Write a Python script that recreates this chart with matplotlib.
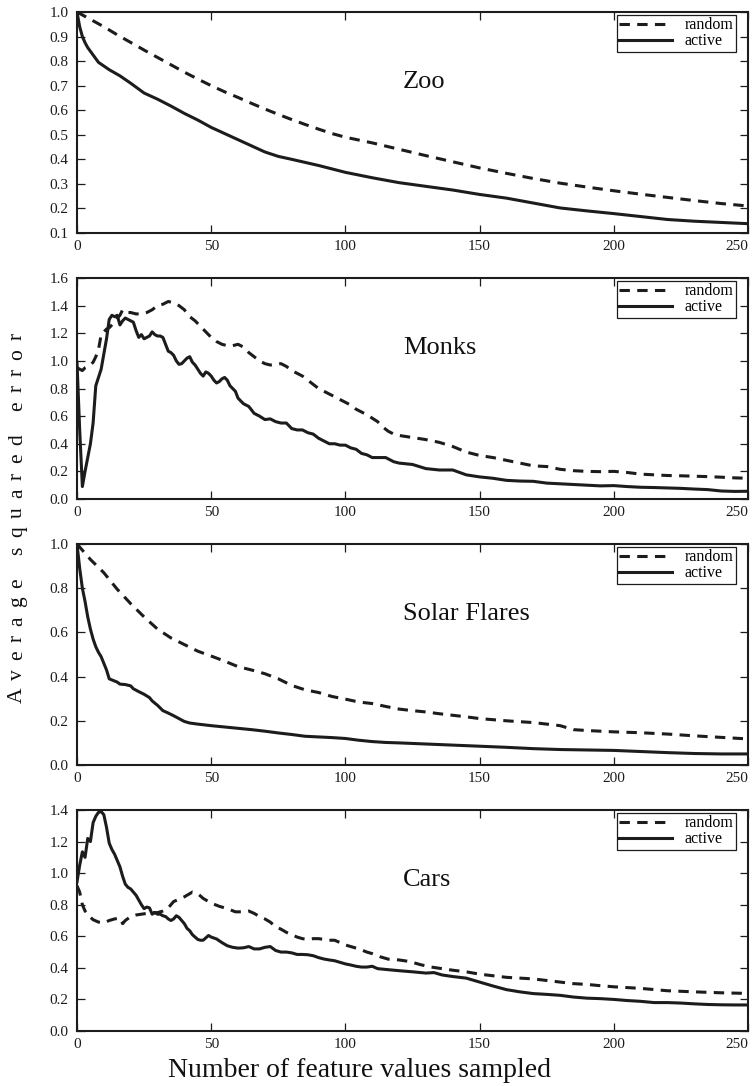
import matplotlib
matplotlib.use("Agg")
import matplotlib.pyplot as plt
from matplotlib.ticker import FormatStrFormatter, MultipleLocator
from matplotlib.font_manager import FontProperties

plt.rcParams['font.family'] = ['Liberation Serif', 'DejaVu Serif']

# ---------------- data ----------------
zoo_random_x = [0, 5, 10, 15, 20, 25, 30, 35, 40, 45, 50, 55, 60, 65, 70, 75, 80, 85, 90, 95,
                100, 110, 120, 130, 140, 150, 160, 170, 180, 190, 200, 210, 220, 230, 240, 250]
zoo_random_y = [1.0, 0.97, 0.94, 0.907, 0.876, 0.845, 0.815, 0.785, 0.755, 0.727, 0.70, 0.675,
                0.652, 0.628, 0.605, 0.583, 0.562, 0.542, 0.523, 0.505, 0.49, 0.467, 0.441, 0.415,
                0.39, 0.365, 0.343, 0.322, 0.303, 0.287, 0.272, 0.258, 0.245, 0.232, 0.22, 0.21]
zoo_active_x = [0, 1, 2, 3, 4, 5, 6, 8, 10, 12, 16, 20, 25, 30, 35, 40, 45, 50, 55, 60, 65, 70,
                75, 80, 90, 100, 110, 120, 130, 140, 150, 160, 170, 180, 190, 200, 210, 220, 230,
                240, 250]
zoo_active_y = [1.0, 0.94, 0.9, 0.875, 0.855, 0.84, 0.825, 0.795, 0.78, 0.765, 0.74, 0.71, 0.67,
                0.645, 0.617, 0.587, 0.56, 0.53, 0.505, 0.48, 0.455, 0.43, 0.412, 0.4, 0.375,
                0.347, 0.325, 0.305, 0.29, 0.275, 0.257, 0.242, 0.222, 0.202, 0.19, 0.179, 0.167,
                0.155, 0.148, 0.143, 0.138]

monks_random_x = [0, 1, 2, 3, 4, 5, 6, 7, 8, 9, 10, 11, 12, 13, 14, 15, 16, 17, 18, 19, 20, 22,
                  24, 26, 28, 30, 32, 34, 36, 38, 40, 42, 44, 46, 48, 50, 52, 54, 56, 58, 60, 62,
                  64, 66, 68, 70, 72, 74, 76, 78, 80, 82, 84, 86, 88, 90, 92, 94, 96, 98, 100,
                  102, 104, 106, 108, 110, 112, 114, 116, 118, 120, 125, 130, 135, 140, 145, 150,
                  155, 160, 165, 170, 175, 180, 185, 190, 195, 200, 205, 210, 215, 220, 225, 230,
                  235, 240, 245, 250]
monks_random_y = [0.95, 0.94, 0.93, 0.95, 0.96, 0.97, 0.99, 1.03, 1.08, 1.19, 1.21, 1.23, 1.24,
                  1.26, 1.28, 1.31, 1.33, 1.37, 1.36, 1.35, 1.35, 1.34, 1.34, 1.35, 1.37, 1.40,
                  1.41, 1.43, 1.42, 1.40, 1.37, 1.32, 1.29, 1.25, 1.21, 1.17, 1.14, 1.12, 1.11,
                  1.11, 1.12, 1.10, 1.06, 1.03, 1.00, 0.98, 0.97, 0.975, 0.98, 0.96, 0.93, 0.91,
                  0.89, 0.86, 0.83, 0.80, 0.78, 0.76, 0.74, 0.72, 0.70, 0.68, 0.65, 0.63, 0.61,
                  0.585, 0.56, 0.52, 0.49, 0.47, 0.46, 0.445, 0.43, 0.41, 0.38, 0.34, 0.315, 0.30,
                  0.28, 0.26, 0.24, 0.235, 0.215, 0.205, 0.20, 0.198, 0.20, 0.192, 0.18, 0.175,
                  0.17, 0.168, 0.165, 0.162, 0.158, 0.153, 0.15]
monks_active_x = [0, 1, 2, 3, 4, 5, 6, 7, 8, 9, 10, 11, 12, 13, 14, 15, 16, 17, 18, 19, 20, 21,
                  22, 23, 24, 25, 26, 27, 28, 29, 30, 31, 32, 33, 34, 35, 36, 37, 38, 39, 40, 41,
                  42, 43, 44, 45, 46, 47, 48, 49, 50, 51, 52, 53, 54, 55, 56, 57, 58, 59, 60, 62,
                  64, 66, 68, 70, 72, 74, 76, 78, 80, 82, 84, 86, 88, 90, 92, 94, 96, 98, 100,
                  102, 104, 106, 108, 110, 112, 115, 118, 120, 125, 130, 135, 140, 145, 150, 155,
                  160, 165, 170, 175, 180, 185, 190, 195, 200, 205, 210, 215, 220, 225, 230, 235,
                  240, 245, 250]
monks_active_y = [0.99, 0.5, 0.09, 0.2, 0.3, 0.4, 0.55, 0.82, 0.88, 0.94, 1.05, 1.16, 1.3, 1.33,
                  1.32, 1.33, 1.26, 1.29, 1.31, 1.30, 1.29, 1.28, 1.22, 1.17, 1.19, 1.16, 1.17,
                  1.18, 1.21, 1.19, 1.18, 1.18, 1.17, 1.12, 1.07, 1.06, 1.04, 1.0, 0.975, 0.98,
                  1.0, 1.02, 1.03, 0.99, 0.97, 0.94, 0.91, 0.89, 0.92, 0.91, 0.89, 0.86, 0.84,
                  0.85, 0.87, 0.88, 0.86, 0.82, 0.80, 0.78, 0.73, 0.69, 0.67, 0.62, 0.60, 0.575,
                  0.58, 0.56, 0.55, 0.55, 0.51, 0.50, 0.50, 0.48, 0.47, 0.44, 0.42, 0.40, 0.40,
                  0.39, 0.39, 0.37, 0.36, 0.33, 0.32, 0.30, 0.30, 0.30, 0.27, 0.26, 0.25, 0.22,
                  0.21, 0.21, 0.175, 0.16, 0.15, 0.135, 0.13, 0.128, 0.115, 0.11, 0.105, 0.10,
                  0.095, 0.097, 0.09, 0.085, 0.083, 0.08, 0.077, 0.072, 0.068, 0.058, 0.055, 0.056]

solar_random_x = [0, 5, 10, 15, 20, 25, 30, 35, 40, 45, 50, 55, 60, 65, 70, 75, 80, 85, 90, 95,
                  100, 105, 110, 115, 120, 125, 130, 135, 140, 145, 150, 160, 170, 180, 185, 190,
                  200, 210, 220, 230, 240, 250]
solar_random_y = [1.0, 0.93, 0.87, 0.795, 0.73, 0.67, 0.615, 0.575, 0.545, 0.515, 0.493, 0.47,
                  0.445, 0.43, 0.413, 0.39, 0.36, 0.34, 0.328, 0.31, 0.298, 0.285, 0.278, 0.265,
                  0.253, 0.246, 0.24, 0.232, 0.225, 0.218, 0.21, 0.2, 0.192, 0.178, 0.16, 0.156,
                  0.15, 0.146, 0.14, 0.132, 0.125, 0.118]
solar_active_x = [0, 1, 2, 3, 4, 5, 6, 7, 8, 9, 10, 11, 12, 13, 14, 15, 16, 18, 20, 21, 23, 25,
                  27, 28, 30, 32, 34, 36, 38, 40, 42, 45, 50, 55, 60, 65, 70, 75, 80, 85, 90, 95,
                  100, 105, 110, 115, 120, 130, 140, 150, 160, 170, 180, 190, 200, 210, 220, 230,
                  240, 250]
solar_active_y = [1.0, 0.89, 0.80, 0.74, 0.67, 0.615, 0.57, 0.535, 0.51, 0.49, 0.46, 0.43, 0.39,
                  0.385, 0.38, 0.375, 0.366, 0.364, 0.358, 0.345, 0.332, 0.32, 0.305, 0.29, 0.27,
                  0.246, 0.235, 0.223, 0.21, 0.197, 0.19, 0.185, 0.178, 0.172, 0.166, 0.16, 0.153,
                  0.145, 0.138, 0.13, 0.127, 0.124, 0.12, 0.112, 0.106, 0.102, 0.1, 0.095, 0.09,
                  0.085, 0.08, 0.074, 0.07, 0.068, 0.066, 0.061, 0.056, 0.052, 0.05, 0.05]

cars_random_x = [0, 1, 2, 3, 4, 5, 6, 8, 10, 12, 14, 16, 17, 18, 20, 22, 24, 26, 28, 30, 32, 34,
                 36, 38, 40, 42, 43, 45, 47, 50, 53, 56, 59, 62, 64, 66, 68, 70, 72, 74, 76, 78,
                 80, 82, 84, 86, 88, 90, 92, 94, 96, 98, 100, 102, 105, 108, 110, 113, 116, 120,
                 124, 128, 132, 136, 140, 145, 150, 155, 160, 165, 170, 175, 180, 185, 190, 195,
                 200, 210, 220, 230, 240, 250]
cars_random_y = [0.92, 0.88, 0.80, 0.76, 0.74, 0.72, 0.705, 0.69, 0.685, 0.70, 0.71, 0.715, 0.68,
                 0.70, 0.725, 0.735, 0.74, 0.745, 0.75, 0.75, 0.76, 0.78, 0.82, 0.835, 0.85, 0.87,
                 0.88, 0.87, 0.84, 0.81, 0.79, 0.775, 0.755, 0.755, 0.76, 0.745, 0.725, 0.71, 0.69,
                 0.66, 0.645, 0.625, 0.61, 0.595, 0.585, 0.58, 0.585, 0.585, 0.58, 0.575, 0.575,
                 0.56, 0.545, 0.535, 0.52, 0.50, 0.49, 0.47, 0.455, 0.45, 0.44, 0.42, 0.405, 0.395,
                 0.385, 0.375, 0.36, 0.35, 0.34, 0.335, 0.33, 0.32, 0.31, 0.30, 0.295, 0.287, 0.28,
                 0.27, 0.255, 0.248, 0.242, 0.238]
cars_active_x = [0, 1, 2, 3, 4, 5, 6, 7, 8, 9, 10, 11, 12, 13, 14, 15, 16, 17, 18, 19, 20, 21,
                 22, 23, 24, 25, 26, 27, 28, 29, 30, 31, 32, 33, 34, 35, 36, 37, 38, 39, 40, 41,
                 42, 43, 44, 45, 46, 47, 48, 49, 50, 52, 54, 56, 58, 60, 62, 64, 66, 68, 70, 72,
                 74, 76, 78, 80, 82, 84, 86, 88, 90, 92, 94, 96, 98, 100, 102, 104, 106, 108, 110,
                 112, 115, 120, 125, 130, 133, 136, 140, 145, 150, 155, 160, 165, 170, 175, 180,
                 185, 190, 195, 200, 205, 210, 215, 220, 225, 230, 235, 240, 245, 250]
cars_active_y = [0.945, 1.05, 1.135, 1.10, 1.22, 1.20, 1.32, 1.36, 1.385, 1.39, 1.37, 1.29, 1.19,
                 1.15, 1.12, 1.08, 1.04, 0.98, 0.93, 0.91, 0.90, 0.88, 0.86, 0.83, 0.80, 0.775,
                 0.785, 0.78, 0.74, 0.75, 0.74, 0.74, 0.73, 0.725, 0.71, 0.70, 0.71, 0.73, 0.72,
                 0.70, 0.68, 0.65, 0.635, 0.61, 0.595, 0.58, 0.575, 0.575, 0.59, 0.605, 0.595,
                 0.583, 0.56, 0.54, 0.53, 0.525, 0.527, 0.535, 0.52, 0.52, 0.53, 0.535, 0.51, 0.50,
                 0.50, 0.495, 0.485, 0.485, 0.483, 0.477, 0.465, 0.456, 0.45, 0.445, 0.435, 0.425,
                 0.418, 0.41, 0.405, 0.405, 0.41, 0.395, 0.39, 0.382, 0.375, 0.367, 0.37, 0.355,
                 0.345, 0.335, 0.31, 0.285, 0.262, 0.248, 0.237, 0.232, 0.226, 0.215, 0.208, 0.205,
                 0.2, 0.193, 0.188, 0.18, 0.18, 0.177, 0.172, 0.168, 0.166, 0.165, 0.165]

panel_names = ["Zoo", "Monks", "Solar Flares", "Cars"]
series_labels = ["random", "active"]
x_ticks = [0, 50, 100, 150, 200, 250]
y_limits = [(0.1, 1.0), (0.0, 1.6), (0.0, 1.0), (0.0, 1.4)]
y_steps = [0.1, 0.2, 0.2, 0.2]

panels = [
    (zoo_random_x, zoo_random_y, zoo_active_x, zoo_active_y),
    (monks_random_x, monks_random_y, monks_active_x, monks_active_y),
    (solar_random_x, solar_random_y, solar_active_x, solar_active_y),
    (cars_random_x, cars_random_y, cars_active_x, cars_active_y),
]

# ---------------- figure ----------------
W, H = 753, 1086
fig = plt.figure(figsize=(W / 100, H / 100), dpi=100)

ink = "#1c1c1c"
left_px, right_px = 77, 748
tops_px = [12, 278, 544, 810]
ax_h_px = 221

for (rx, ry, axx, ay), name, ylim, ystep, top in zip(panels, panel_names, y_limits,
                                                      y_steps, tops_px):
    ax = fig.add_axes([left_px / W, 1 - (top + ax_h_px) / H,
                       (right_px - left_px) / W, ax_h_px / H])
    ax.plot(rx, ry, color=ink, lw=2.2, ls=(0, (3.4, 2.4)), label=series_labels[0],
            dash_capstyle='butt')
    ax.plot(axx, ay, color=ink, lw=2.2, label=series_labels[1],
            solid_joinstyle='round')
    ax.set_xlim(0, 250)
    ax.set_ylim(*ylim)
    ax.set_xticks(x_ticks)
    ax.yaxis.set_major_locator(MultipleLocator(ystep))
    ax.yaxis.set_major_formatter(FormatStrFormatter('%.1f'))
    ax.tick_params(direction='in', top=True, right=True, length=5.5, width=0.9,
                   labelsize=11, colors=ink)
    ax.tick_params(axis='y', pad=6)
    ax.tick_params(axis='x', pad=5)
    for sp in ax.spines.values():
        sp.set_linewidth(1.5)
        sp.set_color(ink)
    ax.xaxis.get_majorticklabels()[-1].set_horizontalalignment('right')

    ax.text(0.486, 0.655, name, transform=ax.transAxes, fontsize=19, color="#111111",
            ha='left', va='baseline')

    leg = ax.legend(loc='upper right', bbox_to_anchor=(0.982, 0.986), borderaxespad=0,
                    fancybox=False, framealpha=1, edgecolor=ink, fontsize=11.5,
                    labelspacing=0.0, handlelength=3.3, handletextpad=0.8,
                    borderpad=0.15)
    leg.get_frame().set_linewidth(0.9)

# x axis title
fig.text(359 / W, 9 / H, "Number of feature values sampled", fontsize=20,
         ha='center', va='baseline', color="#111111")

# y axis title, letter-spaced, reading bottom to top
ylabel = "Average squared error"
fp = FontProperties(family='Liberation Serif', size=15.5)
renderer = fig.canvas.get_renderer()


def text_width(s):
    return renderer.get_text_width_height_descent(s, fp, ismath=False)[0]


natural = text_width(ylabel)
span = 370.0
tracking = (span - natural) / (len(ylabel) - 1)
start = (H - 518) - span / 2
for i, ch in enumerate(ylabel):
    if ch == " ":
        continue
    offset = text_width(ylabel[:i + 1]) - text_width(ch)
    y = start + offset + i * tracking
    fig.text(22 / W, y / H, ch, fontproperties=fp, rotation=90,
             rotation_mode='anchor', ha='left', va='baseline', color="#111111")

fig.savefig("out.png", dpi=100)
